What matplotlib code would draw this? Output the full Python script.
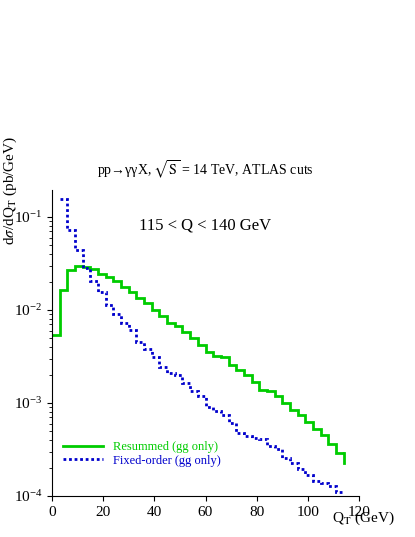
import numpy as np
import matplotlib
matplotlib.use("Agg")
import matplotlib.pyplot as plt

plt.rcParams['font.family'] = ['Liberation Serif', 'DejaVu Serif']
plt.rcParams['mathtext.fontset'] = 'stix'

edges_res = np.arange(0, 115, 3)
log_res = [-2.27, -1.79, -1.57, -1.53, -1.54, -1.56, -1.61, -1.65, -1.69, -1.75,
           -1.81, -1.875, -1.93, -2.0, -2.06, -2.14, -2.17, -2.24, -2.30, -2.375,
           -2.45, -2.49, -2.51, -2.59, -2.64, -2.70, -2.77, -2.86, -2.875, -2.93,
           -3.0, -3.08, -3.125, -3.20, -3.275, -3.34, -3.44, -3.54]
edges_fix = np.arange(3, 115, 3)
log_fix = [-0.81, -1.14, -1.36, -1.55, -1.69, -1.81, -1.95, -2.04, -2.14, -2.22,
           -2.34, -2.42, -2.51, -2.61, -2.68, -2.70, -2.79, -2.875, -2.92, -3.04,
           -3.09, -3.125, -3.21, -3.32, -3.36, -3.375, -3.39, -3.46, -3.50, -3.59,
           -3.64, -3.71, -3.77, -3.84, -3.86, -3.89, -3.96]

res = 10.0 ** np.array(log_res)
fix = 10.0 ** np.array(log_fix)

fig = plt.figure(figsize=(4.15, 5.37), dpi=100)
ax = fig.add_axes([52/415, 1-496/537, 307/415, 306/537])

ax.stairs(res, edges_res, color='#00cc00', lw=2, baseline=None, label='Resummed (gg only)')
ax.plot([114, 114], [res[-1], 10**-3.64], color='#00cc00', lw=2)
ax.stairs(fix, edges_fix, color='#0000cc', lw=2, ls=(0, (1, 1)), baseline=None, label='Fixed-order (gg only)')

ax.set_yscale('log')
ax.set_xlim(0, 120)
ax.set_ylim(1e-4, 10**-0.71)
ax.set_xticks([0, 20, 40, 60, 80, 100, 120])
ax.tick_params(labelsize=11, direction='out')
for s in ['top', 'right']:
    ax.spines[s].set_visible(False)
fig.text(0.95, 0.035, r'Q$_\mathrm{T}$ (GeV)', fontsize=11, ha='right', va='center')
fig.text(0.025, 0.645, r'd$\sigma$/dQ$_\mathrm{T}$ (pb/GeV)', fontsize=11, ha='center',
         va='center', rotation=90)
ax.text(0.5, 1.03, r'pp→γγX, $\sqrt{\mathrm{S}}$ = 14 TeV, ATLAS cuts',
        transform=ax.transAxes, ha='center', va='bottom', fontsize=10)
ax.text(0.5, 0.87, '115 < Q < 140 GeV', transform=ax.transAxes, ha='center', fontsize=12)
leg = ax.legend(loc='lower left', bbox_to_anchor=(0.02, 0.08), frameon=False, fontsize=9,
                handlelength=3.2, borderaxespad=0, labelspacing=0.1)
for t, c in zip(leg.get_texts(), ['#00cc00', '#0000cc']):
    t.set_color(c)
fig.savefig('out.png', dpi=100)
